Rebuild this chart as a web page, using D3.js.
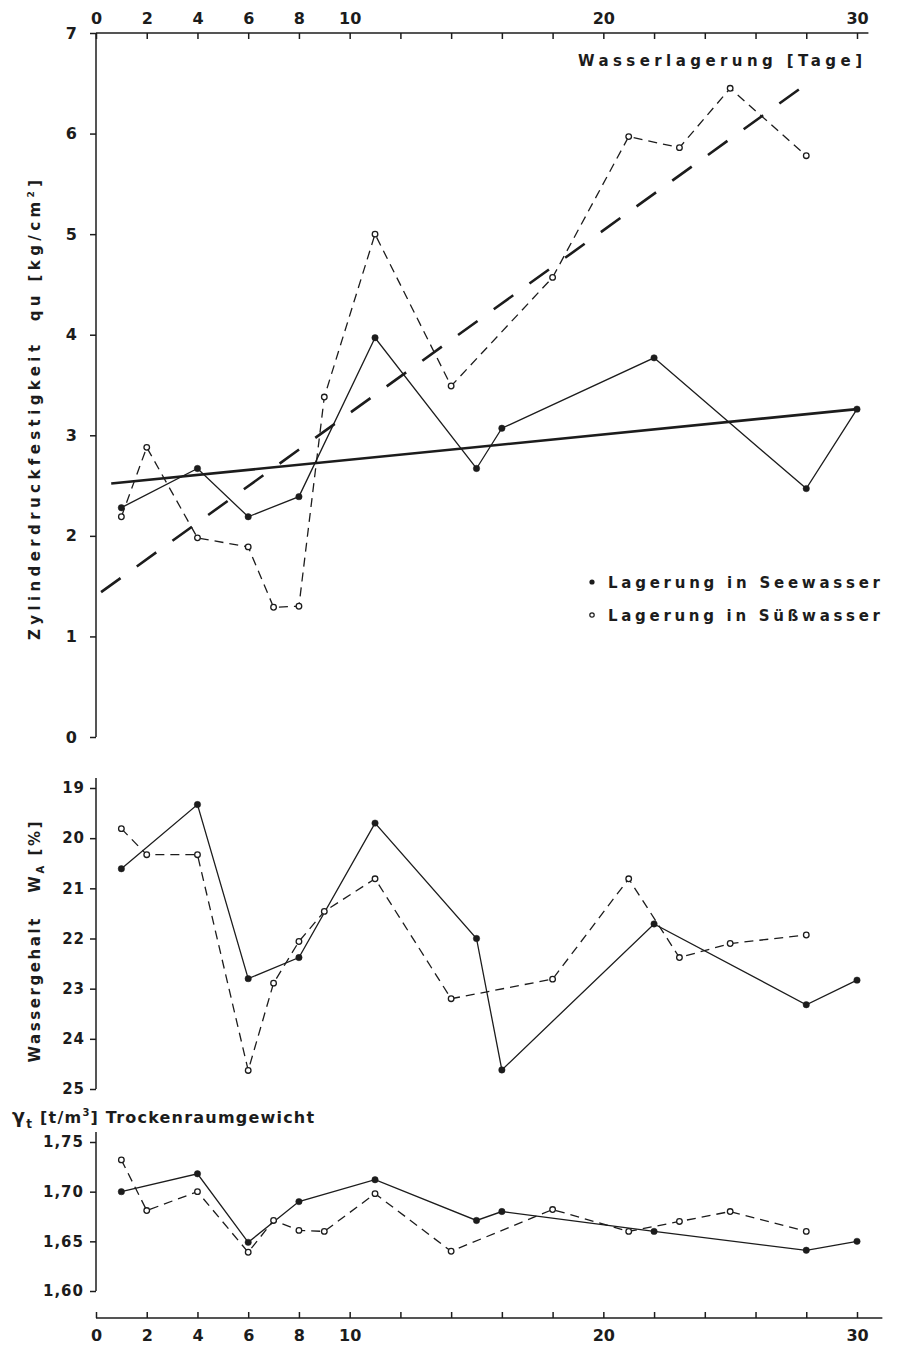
<!DOCTYPE html>
<html>
<head>
<meta charset="utf-8">
<script src="https://cdn.jsdelivr.net/npm/d3@7/dist/d3.min.js"></script>
<style>
  body { margin: 0; background: #fff; }
  svg text { font-family: 'DejaVu Sans', sans-serif; font-weight: bold; fill: #1c1c1c; }
  .axis path, .axis line { stroke: #1c1c1c; stroke-width: 1.5px; }
</style>
</head>
<body>
<script>
var
  // Lagerungsdauer (Tage)
  daysSee  = [1, 4, 6, 8, 11, 15, 16, 22, 28, 30],
  daysSuss = [1, 2, 4, 6, 7, 8, 9, 11, 14, 18, 21, 23, 25, 28],

  // Zylinderdruckfestigkeit qu [kg/cm2]
  quSee  = [2.28, 2.67, 2.19, 2.39, 3.97, 2.67, 3.07, 3.77, 2.47, 3.26],
  quSuss = [2.19, 2.88, 1.98, 1.89, 1.29, 1.30, 3.38, 5.00, 3.49, 4.57, 5.97, 5.86, 6.45, 5.78],

  // Ausgleichsgeraden [Tag, qu]
  trendSee  = [[0.6, 2.52], [30, 3.26]],
  trendSuss = [[0.2, 1.44], [28.1, 6.51]],

  // Wassergehalt WA [%]
  waSee  = [20.61, 19.33, 22.80, 22.38, 19.70, 22.00, 24.62, 21.71, 23.32, 22.83],
  waSuss = [19.81, 20.33, 20.33, 24.63, 22.89, 22.06, 21.46, 20.81, 23.20, 22.81, 20.81, 22.38, 22.10, 21.93],

  // Trockenraumgewicht [t/m3]
  gtSee  = [1.700, 1.718, 1.649, 1.690, 1.712, 1.671, 1.680, 1.660, 1.641, 1.650],
  gtSuss = [1.732, 1.681, 1.700, 1.639, 1.671, 1.661, 1.660, 1.698, 1.640, 1.682, 1.660, 1.670, 1.680, 1.660],

  // Achsen
  xTicks      = d3.range(0, 31, 2),
  xLabels     = [0, 2, 4, 6, 8, 10, 20, 30],
  quTicks     = [0, 1, 2, 3, 4, 5, 6, 7],
  waTicks     = [19, 20, 21, 22, 23, 24, 25],
  gtTicks     = [1.60, 1.65, 1.70, 1.75],

  W = 899,
  H = 1348,
  ink = '#1c1c1c',

  svg = d3.select('body').append('svg').attr('width', W).attr('height', H),

  x     = d3.scaleLinear().domain([0, 30]).range([96, 857]),
  yQu   = d3.scaleLinear().domain([0, 7]).range([737, 33]),
  yWa   = d3.scaleLinear().domain([19, 25]).range([788, 1089]),
  yGt   = d3.scaleLinear().domain([1.60, 1.75]).range([1291, 1142]),

  zip = function zip(days, vals) {
    return days.map(function (d, i) { return [d, vals[i]]; });
  },

  drawSeries = function drawSeries(y, days, vals, filled) {
    var
      pts = zip(days, vals),
      line = d3.line().x(function (p) { return x(p[0]); }).y(function (p) { return y(p[1]); }),
      g = svg.append('g');

    g.append('path')
      .attr('d', line(pts))
      .attr('fill', 'none')
      .attr('stroke', ink)
      .attr('stroke-width', 1.3)
      .attr('stroke-dasharray', filled ? null : '9,6');

    g.selectAll('circle').data(pts).enter().append('circle')
      .attr('cx', function (p) { return x(p[0]); })
      .attr('cy', function (p) { return y(p[1]); })
      .attr('r', filled ? 3.2 : 2.8)
      .attr('fill', filled ? ink : '#fff')
      .attr('stroke', ink)
      .attr('stroke-width', filled ? 0.5 : 1.3);
  },

  drawTrend = function drawTrend(pts, dash) {
    svg.append('path')
      .attr('d', d3.line().x(function (p) { return x(p[0]); }).y(function (p) { return yQu(p[1]); })(pts))
      .attr('fill', 'none')
      .attr('stroke', ink)
      .attr('stroke-width', 2.6)
      .attr('stroke-dasharray', dash);
  },

  drawYAxis = function drawYAxis(y, ticks, fmt, pad, size, top, bottom) {
    var g = svg.append('g').attr('class', 'axis').attr('transform', 'translate(' + x(0) + ',0)')
      .call(d3.axisLeft(y).tickValues(ticks).tickFormat(fmt).tickSizeInner(6).tickSizeOuter(0).tickPadding(pad));
    g.select('.domain').remove();
    g.append('line').attr('y1', top).attr('y2', bottom).attr('x1', 0).attr('x2', 0);
    g.selectAll('text').style('font-size', size + 'px').style('letter-spacing', '1px').attr('fill', ink);
  },

  drawXAxis = function drawXAxis(yPos, axisFn, pad, end) {
    var g = svg.append('g').attr('class', 'axis').attr('transform', 'translate(0,' + yPos + ')')
      .call(axisFn(x).tickValues(xTicks)
        .tickFormat(function (d) { return xLabels.indexOf(d) >= 0 ? d : ''; })
        .tickSizeInner(-6).tickSizeOuter(0).tickPadding(pad));
    g.select('.domain').remove();
    g.append('line').attr('x1', x(0)).attr('x2', end).attr('y1', 0).attr('y2', 0);
    g.selectAll('text').style('font-size', '16px').attr('fill', ink);
  },

  addText = function addText(px, py, size, len) {
    return svg.append('text')
      .attr('x', px).attr('y', py)
      .style('font-size', size + 'px')
      .style('white-space', 'pre')
      .attr('text-anchor', 'middle')
      .attr('textLength', len)
      .attr('lengthAdjust', 'spacing')
      .attr('transform', 'rotate(-90,' + px + ',' + py + ')');
  },

  draw = function draw() {
    svg.append('rect').attr('width', W).attr('height', H).attr('fill', '#fff');

    // --- oben: Festigkeit
    drawXAxis(yQu(7), d3.axisTop, 9, x(30.45));
    drawYAxis(yQu, quTicks, d3.format('d'), 12, 16, yQu(7), yQu(0));

    drawTrend(trendSee, null);
    drawTrend(trendSuss, '24,20');
    drawSeries(yQu, daysSee, quSee, true);
    drawSeries(yQu, daysSuss, quSuss, false);

    svg.append('text').attr('x', 578).attr('y', 66).style('font-size', '15px')
      .attr('textLength', 284).attr('lengthAdjust', 'spacing').text('Wasserlagerung [Tage]');

    // Legende
    svg.append('circle').attr('cx', 592).attr('cy', 582).attr('r', 2.6).attr('fill', ink);
    svg.append('circle').attr('cx', 592).attr('cy', 615).attr('r', 2.2).attr('fill', '#fff').attr('stroke', ink).attr('stroke-width', 1.2);
    svg.append('text').attr('x', 608).attr('y', 588).style('font-size', '15px')
      .attr('textLength', 272).attr('lengthAdjust', 'spacing').text('Lagerung in Seewasser');
    svg.append('text').attr('x', 608).attr('y', 621).style('font-size', '15px')
      .attr('textLength', 272).attr('lengthAdjust', 'spacing').text('Lagerung in Süßwasser');

    var lq = addText(40, 410, 15, 460);
    lq.append('tspan').text('Zylinderdruckfestigkeit  qu [kg/cm');
    lq.append('tspan').attr('dy', -6).style('font-size', '9px').text('2');
    lq.append('tspan').attr('dy', 6).text(']');

    // --- Mitte: Wassergehalt
    drawYAxis(yWa, waTicks, d3.format('d'), 5, 15, yWa(18.8), yWa(25));
    drawSeries(yWa, daysSee, waSee, true);
    drawSeries(yWa, daysSuss, waSuss, false);

    var lw = addText(40, 942, 15, 241);
    lw.append('tspan').text('Wassergehalt   W');
    lw.append('tspan').attr('dy', 4).style('font-size', '10px').text('A');
    lw.append('tspan').attr('dy', -4).text(' [%]');

    // --- unten: Trockenraumgewicht
    drawYAxis(yGt, gtTicks, function (d) { return d3.format('.2f')(d).replace('.', ','); }, 6, 15, yGt(1.76), yGt(1.60));
    drawSeries(yGt, daysSee, gtSee, true);
    drawSeries(yGt, daysSuss, gtSuss, false);
    drawXAxis(1318, d3.axisBottom, 12, x(31.0));

    var lg = svg.append('text').attr('x', 12).attr('y', 1123).style('font-size', '16px').style('letter-spacing', '1.2px');
    lg.append('tspan').style('font-size', '19px').text('γ');
    lg.append('tspan').attr('dy', 5).style('font-size', '12px').text('t');
    lg.append('tspan').attr('dy', -5).attr('dx', 7).text('[t/m');
    lg.append('tspan').attr('dy', -7).style('font-size', '10px').text('3');
    lg.append('tspan').attr('dy', 7).text('] Trockenraumgewicht');
  },

  init = function init() {
    draw();
  };

init();
</script>
</body>
</html>
